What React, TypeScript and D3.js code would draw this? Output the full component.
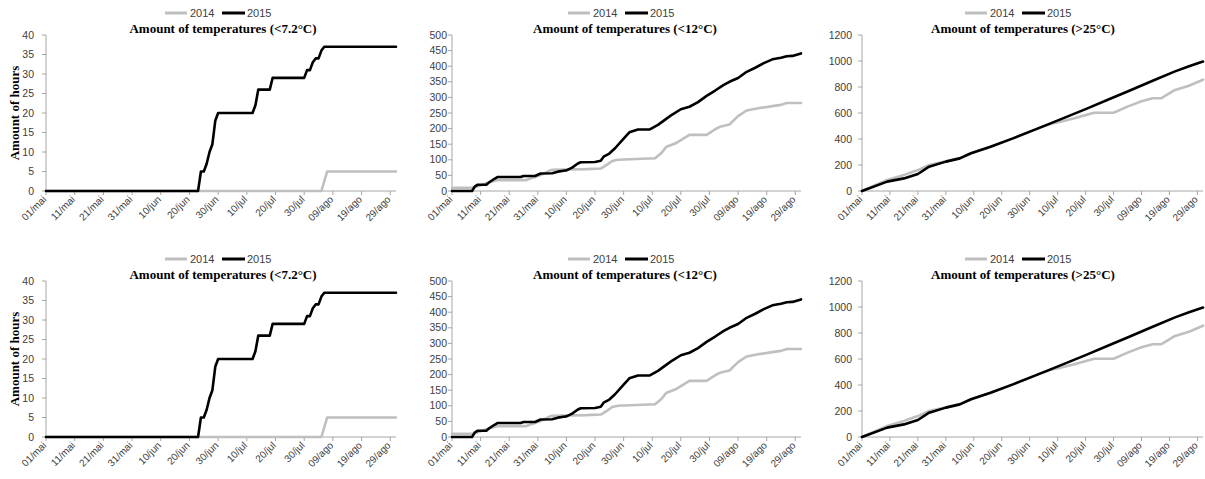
import React from "react";
import * as d3 from "d3";

// ---------- DATA ----------
// day offset from 01/mai, value (hours)
const tickDays = [0, 10, 20, 30, 40, 50, 60, 70, 80, 90, 100, 110, 120];
const tickLabels = ["01/mai", "11/mai", "21/mai", "31/mai", "10/jun", "20/jun", "30/jun", "10/jul", "20/jul", "30/jul", "09/ago", "19/ago", "29/ago"];
const seriesNames = ["2014", "2015"];
const lastDay = 122;

const below72_2014: [number, number][] = [[0, 0], [96, 0], [98, 5], [122, 5]];
const below72_2015: [number, number][] = [
  [0, 0], [53, 0], [54, 5], [55, 5], [56, 7], [57, 10], [58, 12], [59, 18], [60, 20], [72, 20], [73, 22], [74, 26],
  [78, 26], [79, 29], [90, 29], [91, 31], [92, 31], [93, 33], [94, 34], [95, 34], [96, 36], [97, 37], [122, 37],
];

const below12_2014: [number, number][] = [
  [0, 10], [7, 10], [8, 12], [10, 18], [12, 25], [16, 35], [26, 35], [28, 42], [30, 48], [32, 55], [34, 65], [35, 68],
  [47, 70], [52, 72], [54, 83], [56, 96], [58, 100], [71, 105], [73, 120], [75, 142], [78, 152], [80, 163], [83, 180],
  [89, 180], [92, 198], [94, 207], [97, 213], [100, 240], [103, 258], [107, 265], [112, 272], [115, 276], [117, 282], [122, 282],
];
const below12_2015: [number, number][] = [
  [0, 0], [7, 0], [8, 15], [9, 20], [12, 20], [13, 28], [15, 40], [16, 45], [24, 45], [25, 48], [29, 48], [30, 52], [31, 56],
  [35, 57], [37, 62], [39, 65], [40, 66], [42, 75], [44, 88], [45, 92], [50, 93], [52, 97], [53, 110], [55, 120], [57, 137],
  [60, 168], [62, 188], [65, 197], [69, 197], [72, 212], [75, 232], [77, 245], [80, 262], [83, 270], [86, 285], [89, 305],
  [92, 322], [95, 340], [97, 350], [100, 362], [103, 382], [106, 395], [109, 410], [112, 422], [115, 427], [117, 432],
  [119, 433], [122, 441],
];

const above25_2014: [number, number][] = [
  [0, 0], [9, 85], [15, 123], [20, 161], [24, 200], [30, 228], [35, 253], [39, 290], [46, 341], [54, 405], [63, 482],
  [68, 520], [71, 533], [76, 560], [83, 602], [90, 602], [95, 649], [100, 690], [104, 713], [107, 713], [112, 777],
  [117, 810], [122, 856],
];
const above25_2015: [number, number][] = [
  [0, 0], [9, 72], [15, 97], [20, 131], [24, 187], [30, 226], [35, 251], [39, 290], [46, 341], [54, 405], [63, 482],
  [71, 551], [80, 630], [89, 712], [95, 765], [104, 848], [112, 920], [117, 960], [122, 996],
];

const titles = ["Amount of temperatures (<7.2°C)", "Amount of temperatures (<12°C)", "Amount of temperatures (>25°C)"];
const yMaxes = [40, 500, 1200];
const ySteps = [5, 50, 200];
const panelData = [
  [below72_2014, below72_2015],
  [below12_2014, below12_2015],
  [above25_2014, above25_2015],
];
const yAxisTitle = "Amount of hours";

// ---------- LAYOUT ----------
const W = 1205;
const H = 479;
const cols = [
  { left: 46, right: 396, labelGap: 12, titleX: 223, legendX: 165 },
  { left: 452, right: 801, labelGap: 5, titleX: 625, legendX: 568 },
  { left: 862, right: 1203, labelGap: 10, titleX: 1023, legendX: 965 },
];
const rowOffsets = [0, 246];
const plotTop = 35;
const plotBottom = 191;
const colors = ["#BFBFBF", "#000000"];
const axisColor = "#A6A6A6";
const labelColor = "#404040";
const sans = "'Liberation Sans', Arial, sans-serif";
const serif = "'Liberation Serif', 'Times New Roman', serif";

function Panel({ ci, dy }: { ci: number; dy: number }) {
  const c = cols[ci];
  const x = d3.scaleLinear().domain([0, lastDay]).range([c.left, c.right]);
  const y = d3.scaleLinear().domain([0, yMaxes[ci]]).range([plotBottom + dy, plotTop + dy]);
  const yTicks = d3.range(0, yMaxes[ci] + ySteps[ci] / 2, ySteps[ci]);
  const line = d3
    .line<[number, number]>()
    .x((d) => x(d[0]))
    .y((d) => y(d[1]));
  const legY = 13 + dy;
  return (
    <g>
      {/* legend */}
      <g fontFamily={sans} fontSize={11} fill={labelColor}>
        <line x1={c.legendX} x2={c.legendX + 22} y1={legY} y2={legY} stroke={colors[0]} strokeWidth={3} />
        <text x={c.legendX + 25} y={legY + 4}>{seriesNames[0]}</text>
        <line x1={c.legendX + 57} x2={c.legendX + 80} y1={legY} y2={legY} stroke={colors[1]} strokeWidth={3} />
        <text x={c.legendX + 82} y={legY + 4}>{seriesNames[1]}</text>
      </g>
      {/* title */}
      <text x={c.titleX} y={33 + dy} textAnchor="middle" fontFamily={serif} fontWeight="bold" fontSize={13} fill="#000">
        {titles[ci]}
      </text>
      {/* y axis */}
      <line x1={c.left} x2={c.left} y1={y(yMaxes[ci])} y2={y(0)} stroke={axisColor} strokeWidth={1} />
      {yTicks.map((t) => (
        <g key={t}>
          <line x1={c.left - 4} x2={c.left} y1={y(t)} y2={y(t)} stroke={axisColor} strokeWidth={1} />
          <text x={c.left - c.labelGap} y={y(t) + 3.5} textAnchor="end" fontFamily={sans} fontSize={10.5} fill={labelColor}>
            {t}
          </text>
        </g>
      ))}
      {/* x axis */}
      <line x1={c.left} x2={c.right} y1={y(0)} y2={y(0)} stroke={axisColor} strokeWidth={1} />
      {tickDays.map((d, i) => (
        <g key={d}>
          <line x1={x(d)} x2={x(d)} y1={y(0)} y2={y(0) + 4} stroke={axisColor} strokeWidth={1} />
          <text
            transform={`translate(${x(d) + 1},${y(0) + 9}) rotate(-45)`}
            textAnchor="end"
            fontFamily={sans}
            fontSize={10}
            fill={labelColor}
          >
            {tickLabels[i]}
          </text>
        </g>
      ))}
      {/* y axis title */}
      {ci === 0 && (
        <text
          transform={`translate(19,${113 + dy}) rotate(-90)`}
          textAnchor="middle"
          fontFamily={serif}
          fontWeight="bold"
          fontSize={13}
          fill="#000"
        >
          {yAxisTitle}
        </text>
      )}
      {/* series */}
      {panelData[ci].map((s, si) => (
        <path
          key={si}
          d={line(s) || ""}
          fill="none"
          stroke={colors[si]}
          strokeWidth={2.6}
          strokeLinejoin="round"
          strokeLinecap="round"
        />
      ))}
    </g>
  );
}

export default function App() {
  return (
    <svg
      width={W}
      height={H}
      viewBox={`0 0 ${W} ${H}`}
      style={{ position: "absolute", left: 0, top: 0, background: "#fff" }}
    >
      <rect x={0} y={0} width={W} height={H} fill="#fff" />
      {rowOffsets.map((dy) =>
        cols.map((_, ci) => <Panel key={`${dy}-${ci}`} ci={ci} dy={dy} />)
      )}
    </svg>
  );
}
